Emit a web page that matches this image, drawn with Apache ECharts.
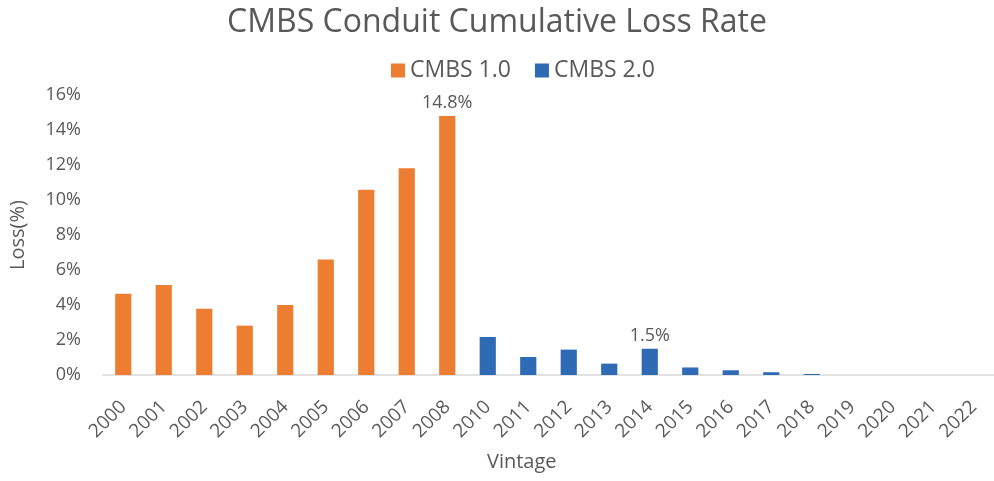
<!DOCTYPE html>
<html>
<head>
<meta charset="utf-8">
<script src="https://cdn.jsdelivr.net/npm/echarts@6/dist/echarts.min.js"></script>
<style>
  html, body { margin: 0; padding: 0; background: #fff; }
  #chart { width: 994px; height: 481px; }
</style>
</head>
<body>
<div id="chart"></div>
<script>
// Vintage years on the category axis
const vintages = ['2000','2001','2002','2003','2004','2005','2006','2007','2008',
  '2010','2011','2012','2013','2014','2015','2016','2017','2018','2019','2020','2021','2022'];

// Cumulative loss rate (%) per vintage; null where the vintage belongs to the other era
const cmbs1 = [4.65, 5.15, 3.78, 2.82, 4.0, 6.6, 10.58, 11.82, 14.8,
  null, null, null, null, null, null, null, null, null, null, null, null, null];
const cmbs2 = [null, null, null, null, null, null, null, null, null,
  2.17, 1.03, 1.45, 0.65, 1.5, 0.43, 0.27, 0.16, 0.06, 0, 0, 0, 0];

// Vintages whose value is printed above the bar
const labelledVintages = ['2008', '2014'];

const yTicks = { min: 0, max: 16, interval: 2 };

const FONT = '"Open Sans", "Noto Sans", sans-serif';
const GREY = '#595959';

function withLabels(values) {
  return values.map((v, i) => {
    if (v !== null && labelledVintages.includes(vintages[i])) {
      return {
        value: v,
        label: {
          show: true, position: 'top', distance: 4,
          formatter: p => p.value.toFixed(1) + '%',
          color: GREY, fontSize: 18, fontFamily: FONT
        }
      };
    }
    return v;
  });
}

const chart = echarts.init(document.getElementById('chart'));
chart.setOption({
  animation: false,
  textStyle: { fontFamily: FONT, color: GREY },
  title: {
    text: 'CMBS Conduit Cumulative Loss Rate',
    left: 'center', top: 2,
    textStyle: { fontSize: 32, fontWeight: 'normal', color: GREY, fontFamily: FONT }
  },
  legend: {
    top: 54, left: 386,
    icon: 'rect', itemWidth: 14, itemHeight: 14, itemGap: 24, itemTextGap: 8,
    textStyle: { fontSize: 23, color: GREY, fontFamily: FONT },
    data: ['CMBS 1.0', 'CMBS 2.0']
  },
  grid: { left: 101, right: -9, top: 95, bottom: 106, containLabel: false },
  xAxis: {
    type: 'category',
    data: vintages,
    axisTick: { show: false },
    axisLine: { lineStyle: { color: '#D9D9D9', width: 1.5 } },
    axisLabel: { rotate: 45, margin: 29, fontSize: 19, color: GREY, fontFamily: FONT, interval: 0 }
  },
  yAxis: {
    type: 'value',
    min: yTicks.min, max: yTicks.max, interval: yTicks.interval,
    name: 'Loss(%)', nameLocation: 'middle', nameGap: 75,
    nameTextStyle: { fontSize: 20, color: GREY, fontFamily: FONT },
    splitLine: { show: false },
    axisLine: { show: false },
    axisTick: { show: false },
    axisLabel: { formatter: '{value}%', fontSize: 18, color: GREY, fontFamily: FONT, margin: 22 }
  },
  graphic: [{
    type: 'text', left: 523 - 36, top: 452,
    style: { text: 'Vintage', fontSize: 20, fill: GREY, fontFamily: FONT }
  }],
  series: [
    {
      name: 'CMBS 1.0', type: 'bar', stack: 'era', barWidth: '40%',
      itemStyle: { color: '#ED7D31' },
      data: withLabels(cmbs1)
    },
    {
      name: 'CMBS 2.0', type: 'bar', stack: 'era', barWidth: '40%',
      itemStyle: { color: '#2F6AB5' },
      data: withLabels(cmbs2)
    }
  ]
});
</script>
</body>
</html>
